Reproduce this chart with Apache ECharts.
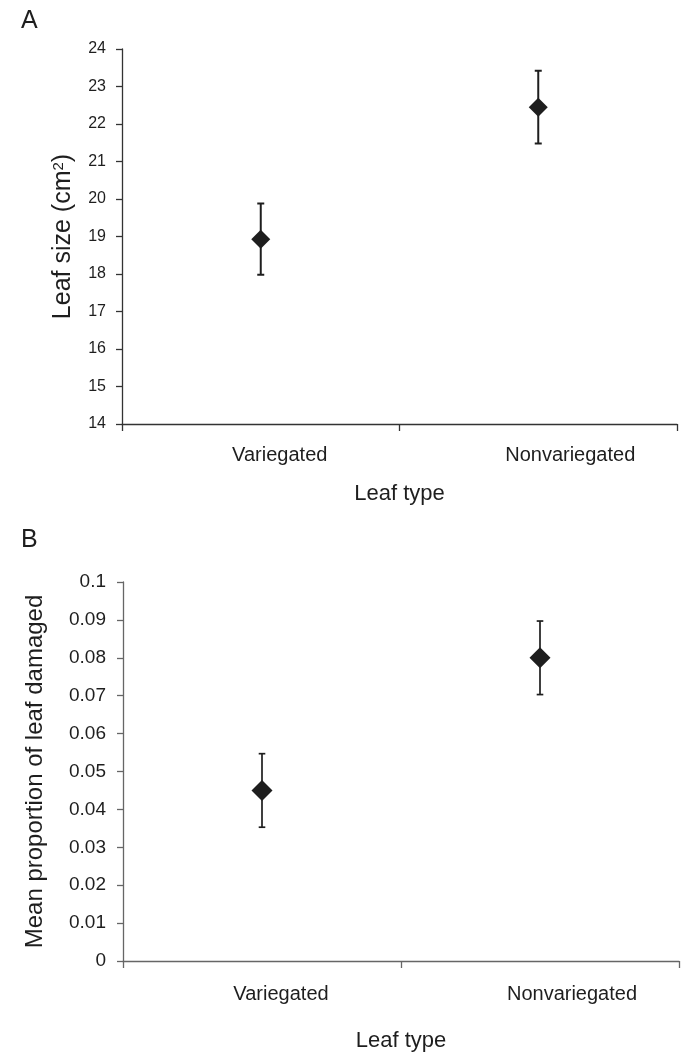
<!DOCTYPE html>
<html>
<head>
<meta charset="utf-8">
<title>Leaf size and damage</title>
<script src="https://cdn.jsdelivr.net/npm/echarts@6/dist/echarts.min.js"></script>
<style>
  html, body { margin: 0; padding: 0; background: #fff; }
  #chart { width: 681px; height: 1055px; }
</style>
</head>
<body>
<div id="chart"></div>
<script>
(function() {
  'use strict';

  var leafTypes = ['Variegated', 'Nonvariegated'];
  // panel A: leaf size (cm2), mean and error
  var sizeMean = [18.93, 22.45];
  var sizeErr = [0.95, 0.97];
  // panel B: mean proportion of leaf damaged
  var damageMean = [0.045, 0.080];
  var damageErr = [0.0097, 0.0097];

  var font = '"Liberation Sans", Arial, Helvetica, sans-serif';
  var ink = '#1e1e1e';
  // labels in the original sit a bit right of the band centres
  var labelPad = [[0, 0, 0, 38], [0, 0, 0, 64]];

  function catData() {
    return leafTypes.map(function(name, i) {
      return { value: name, textStyle: { padding: labelPad[i] } };
    });
  }

  function errorData(mean, err) {
    return leafTypes.map(function(name, i) {
      return [i, mean[i] - err[i], mean[i] + err[i]];
    });
  }

  function errorBar(lineWidth, cap) {
    return function(params, api) {
      var x = api.value(0);
      var top = api.coord([x, api.value(2)]);
      var bot = api.coord([x, api.value(1)]);
      var style = { stroke: ink, lineWidth: lineWidth };
      return {
        type: 'group',
        children: [
          { type: 'line', shape: { x1: top[0], y1: top[1], x2: bot[0], y2: bot[1] }, style: style },
          { type: 'line', shape: { x1: top[0] - cap, y1: top[1], x2: top[0] + cap, y2: top[1] }, style: style },
          { type: 'line', shape: { x1: bot[0] - cap, y1: bot[1], x2: bot[0] + cap, y2: bot[1] }, style: style }
        ]
      };
    };
  }

  function xAxisFor(gridIndex, color, margin, nameGap) {
    return {
      gridIndex: gridIndex,
      type: 'category',
      data: catData(),
      name: 'Leaf type',
      nameLocation: 'middle',
      nameGap: nameGap,
      nameTextStyle: { fontFamily: font, fontSize: 22, color: ink },
      axisLine: { lineStyle: { color: color, width: 1.3 } },
      axisTick: { show: true, length: 7, lineStyle: { color: color, width: 1.3 } },
      axisLabel: { fontFamily: font, fontSize: 20, color: ink, margin: margin },
      splitLine: { show: false }
    };
  }

  var chart = echarts.init(document.getElementById('chart'), null, { renderer: 'canvas' });

  chart.setOption({
    animation: false,
    backgroundColor: '#fff',
    title: [
      { text: 'A', left: 16, top: 4, textStyle: { fontFamily: font, fontSize: 25, fontWeight: 'normal', color: ink } },
      { text: 'B', left: 16, top: 523, textStyle: { fontFamily: font, fontSize: 25, fontWeight: 'normal', color: ink } }
    ],
    grid: [
      { left: 122, right: 4, top: 49, height: 375 },
      { left: 123, right: 2, top: 582, height: 379 }
    ],
    xAxis: [
      xAxisFor(0, '#333', 21, 59),
      xAxisFor(1, '#666', 23, 69)
    ],
    yAxis: [
      {
        gridIndex: 0,
        type: 'value',
        min: 14,
        max: 24,
        interval: 1,
        name: 'Leaf size (cm{sup|2})',
        nameLocation: 'middle',
        nameGap: 46,
        nameTextStyle: {
          fontFamily: font, fontSize: 25, color: ink,
          rich: { sup: { fontFamily: font, fontSize: 15, color: ink, verticalAlign: 'top', padding: [0, 0, 10, 0] } }
        },
        axisLine: { show: true, lineStyle: { color: '#333', width: 1.3 } },
        axisTick: { show: true, length: 6, lineStyle: { color: '#333', width: 1.3 } },
        axisLabel: { fontFamily: font, fontSize: 16, color: ink, margin: 16 },
        splitLine: { show: false }
      },
      {
        gridIndex: 1,
        type: 'value',
        min: 0,
        max: 0.1,
        interval: 0.01,
        name: 'Mean proportion of leaf damaged',
        nameLocation: 'middle',
        nameGap: 76,
        nameTextStyle: { fontFamily: font, fontSize: 24, color: ink },
        axisLine: { show: true, lineStyle: { color: '#666', width: 1.3 } },
        axisTick: { show: true, length: 6, lineStyle: { color: '#666', width: 1.3 } },
        axisLabel: { fontFamily: font, fontSize: 19, color: ink, margin: 17 },
        splitLine: { show: false }
      }
    ],
    series: [
      {
        type: 'custom',
        xAxisIndex: 0,
        yAxisIndex: 0,
        renderItem: errorBar(2, 3.5),
        data: errorData(sizeMean, sizeErr),
        z: 1
      },
      {
        type: 'scatter',
        xAxisIndex: 0,
        yAxisIndex: 0,
        symbol: 'diamond',
        symbolSize: [19, 19],
        itemStyle: { color: ink, opacity: 1 },
        data: sizeMean,
        z: 2
      },
      {
        type: 'custom',
        xAxisIndex: 1,
        yAxisIndex: 1,
        renderItem: errorBar(1.7, 3.3),
        data: errorData(damageMean, damageErr),
        z: 1
      },
      {
        type: 'scatter',
        xAxisIndex: 1,
        yAxisIndex: 1,
        symbol: 'diamond',
        symbolSize: [21, 21],
        itemStyle: { color: ink, opacity: 1 },
        data: damageMean,
        z: 2
      }
    ]
  });

  window.addEventListener('resize', function() { chart.resize(); });
})();
</script>
</body>
</html>
